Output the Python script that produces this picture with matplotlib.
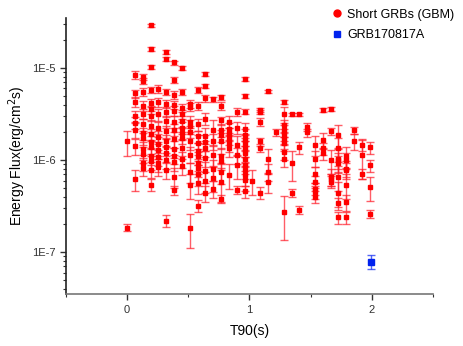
import numpy as np
import matplotlib
matplotlib.use('Agg')
import matplotlib.pyplot as plt
from matplotlib.lines import Line2D
from matplotlib.ticker import FixedLocator, MultipleLocator, LogLocator, NullFormatter

plt.rcParams['font.family'] = ['Liberation Sans', 'DejaVu Sans']

# T90 columns (s), GBM binning
t90_cols = [0.000, 0.064, 0.128, 0.192, 0.256, 0.320, 0.384, 0.448,
            0.512, 0.576, 0.640, 0.704, 0.768, 0.832, 0.896, 0.960,
            1.024, 1.088, 1.152, 1.216, 1.280, 1.344, 1.408, 1.472,
            1.536, 1.600, 1.664, 1.728, 1.792, 1.856, 1.920, 1.984]

# energy flux per column (erg/cm^2/s)
flux_cols = [
    [1.6e-6, 1.85e-7],
    [8.4e-6, 5.3e-6, 4.3e-6, 3.0e-6, 2.55e-6, 2.15e-6, 1.42e-6, 6.2e-7],
    [8.0e-6, 7.3e-6, 5.5e-6, 3.9e-6, 3.2e-6, 2.45e-6, 1.95e-6, 1.72e-6, 1.32e-6, 1.16e-6, 9.4e-7, 8.3e-7],
    [2.93e-5, 1.6e-5, 1.03e-5, 5.8e-6, 4.15e-6, 3.55e-6, 3.05e-6, 2.35e-6, 1.9e-6, 1.58e-6, 1.38e-6, 1.1e-6, 9.8e-7, 7.9e-7, 5.4e-7],
    [5.9e-6, 4.25e-6, 3.15e-6, 2.25e-6, 1.78e-6, 1.5e-6, 1.3e-6, 1.08e-6, 9.2e-7, 8.5e-7],
    [1.5e-5, 1.25e-5, 5.5e-6, 4.05e-6, 3.35e-6, 2.65e-6, 2.05e-6, 1.62e-6, 1.4e-6, 1.18e-6, 1.0e-6, 7.8e-7, 2.2e-7],
    [1.15e-5, 7.4e-6, 5.1e-6, 4.0e-6, 3.45e-6, 2.6e-6, 2.15e-6, 1.68e-6, 1.33e-6, 1.12e-6, 9.5e-7, 6.6e-7, 4.7e-7],
    [1.0e-5, 5.5e-6, 3.7e-6, 3.15e-6, 2.65e-6, 2.25e-6, 1.98e-6, 1.74e-6, 1.37e-6, 1.02e-6, 8.6e-7],
    [4.1e-6, 3.75e-6, 2.6e-6, 2.35e-6, 2.02e-6, 1.62e-6, 1.15e-6, 7.5e-7, 5.4e-7, 1.85e-7],
    [5.8e-6, 3.9e-6, 2.45e-6, 1.82e-6, 1.55e-6, 1.27e-6, 1.1e-6, 9.4e-7, 8.2e-7, 7.0e-7, 5.7e-7, 3.2e-7],
    [8.6e-6, 6.4e-6, 4.7e-6, 2.8e-6, 1.85e-6, 1.58e-6, 1.36e-6, 1.05e-6, 7.6e-7, 5.9e-7, 4.4e-7],
    [4.6e-6, 2.1e-6, 1.6e-6, 1.14e-6, 8.0e-7, 6.4e-7, 4.9e-7],
    [4.8e-6, 3.9e-6, 2.7e-6, 2.12e-6, 1.86e-6, 1.63e-6, 1.12e-6, 9.7e-7, 7.4e-7, 5.8e-7, 3.8e-7],
    [2.6e-6, 2.2e-6, 1.96e-6, 1.72e-6, 1.52e-6, 1.34e-6, 6.9e-7],
    [3.35e-6, 2.25e-6, 1.46e-6, 1.13e-6, 8.8e-7, 4.7e-7],
    [7.6e-6, 5.0e-6, 3.35e-6, 2.2e-6, 1.88e-6, 1.66e-6, 1.52e-6, 1.35e-6, 1.19e-6, 1.04e-6, 8.9e-7, 7.8e-7, 6.9e-7, 6.1e-7, 4.6e-7],
    [6.0e-7],
    [3.5e-6, 3.3e-6, 2.6e-6, 1.6e-6, 1.37e-6, 4.4e-7],
    [5.6e-6, 1.02e-6, 7.5e-7, 5.8e-7],
    [2.0e-6],
    [4.3e-6, 3.15e-6, 2.4e-6, 2.1e-6, 1.88e-6, 1.7e-6, 1.54e-6, 1.24e-6, 1.04e-6, 2.7e-7],
    [3.15e-6, 9.2e-7, 4.4e-7],
    [3.15e-6, 1.38e-6, 2.9e-7],
    [2.3e-6, 2.0e-6],
    [1.46e-6, 1.04e-6, 7.1e-7, 5.8e-7, 4.9e-7, 4.5e-7, 4.0e-7],
    [3.5e-6, 1.65e-6, 1.35e-6, 1.18e-6],
    [3.6e-6, 2.05e-6, 1.0e-6, 6.6e-7, 6.2e-7, 5.8e-7],
    [1.87e-6, 1.35e-6, 1.04e-6, 1.0e-6, 9.2e-7, 6.6e-7, 4.4e-7, 3.4e-7, 2.4e-7],
    [1.1e-6, 1.0e-6, 8.1e-7, 7.8e-7, 5.4e-7, 3.5e-7, 2.4e-7],
    [2.1e-6, 1.6e-6],
    [1.46e-6, 1.13e-6, 7.1e-7],
    [1.38e-6, 8.8e-7, 5.1e-7, 2.6e-7],
]

# relative flux errors, same layout as flux_cols
relerr_cols = [
    [0.3, 0.08],
    [0.1, 0.1, 0.12, 0.15, 0.15, 0.2, 0.2, 0.25],
    [0.08, 0.08, 0.1, 0.12, 0.12, 0.15, 0.15, 0.15, 0.2, 0.2, 0.2, 0.2],
    [0.04, 0.05, 0.05, 0.08, 0.1, 0.1, 0.12, 0.15, 0.15, 0.15, 0.2, 0.2, 0.2, 0.2, 0.15],
    [0.1, 0.12, 0.15, 0.15, 0.15, 0.2, 0.2, 0.2, 0.2, 0.2],
    [0.05, 0.05, 0.08, 0.1, 0.12, 0.15, 0.15, 0.15, 0.2, 0.2, 0.2, 0.2, 0.15],
    [0.05, 0.08, 0.1, 0.1, 0.12, 0.15, 0.15, 0.2, 0.2, 0.2, 0.2, 0.25, 0.12],
    [0.05, 0.08, 0.1, 0.12, 0.15, 0.15, 0.15, 0.15, 0.2, 0.2, 0.2],
    [0.1, 0.1, 0.15, 0.15, 0.15, 0.2, 0.2, 0.25, 0.3, 0.4],
    [0.08, 0.1, 0.15, 0.15, 0.2, 0.2, 0.2, 0.2, 0.2, 0.25, 0.25, 0.15],
    [0.05, 0.06, 0.08, 0.15, 0.2, 0.2, 0.2, 0.2, 0.25, 0.25, 0.2],
    [0.06, 0.3, 0.2, 0.25, 0.25, 0.3, 0.2],
    [0.06, 0.1, 0.1, 0.15, 0.15, 0.2, 0.2, 0.2, 0.25, 0.4, 0.1],
    [0.15, 0.15, 0.15, 0.15, 0.2, 0.2, 0.3],
    [0.1, 0.15, 0.25, 0.2, 0.3, 0.1],
    [0.05, 0.05, 0.06, 0.15, 0.15, 0.15, 0.15, 0.2, 0.2, 0.2, 0.2, 0.2, 0.25, 0.25, 0.15],
    [0.3],
    [0.05, 0.05, 0.1, 0.1, 0.1, 0.15],
    [0.04, 0.3, 0.2, 0.25],
    [0.08],
    [0.05, 0.2, 0.15, 0.15, 0.15, 0.15, 0.15, 0.2, 0.2, 0.5],
    [0.04, 0.35, 0.1],
    [0.04, 0.15, 0.1],
    [0.1, 0.1],
    [0.25, 0.2, 0.2, 0.15, 0.15, 0.15, 0.15],
    [0.05, 0.2, 0.15, 0.15],
    [0.05, 0.08, 0.3, 0.2, 0.15, 0.15],
    [0.3, 0.3, 0.3, 0.2, 0.2, 0.3, 0.3, 0.15, 0.15],
    [0.25, 0.2, 0.2, 0.2, 0.3, 0.2, 0.15],
    [0.08, 0.2],
    [0.15, 0.45, 0.12],
    [0.15, 0.15, 0.3, 0.1],
]

# GRB170817A
t90_170817 = [1.99]
flux_170817 = [7.9e-8]
err_170817 = [1.3e-8]

t90 = []
flux = []
ferr = []
for t, fl, re in zip(t90_cols, flux_cols, relerr_cols):
    for f, r in zip(fl, re):
        t90.append(t)
        flux.append(f)
        ferr.append(f * r)

fig = plt.figure(figsize=(4.63, 3.46), dpi=100)
ax = fig.add_axes([0.1425, 0.150, 0.7925, 0.798])

ax.errorbar(t90, flux, yerr=ferr, fmt='s', ms=2.3, color='#ff0000',
            ecolor=(1, 0.1, 0.15, 0.7), elinewidth=1, capsize=3, capthick=1)
ax.errorbar(t90_170817, flux_170817, yerr=err_170817, fmt='s', ms=4.5,
            color='#0022ee', ecolor=(0.1, 0.2, 0.95, 0.75), elinewidth=1,
            capsize=3, capthick=1)

ax.set_yscale('log')
ax.set_xlim(-0.5, 2.5)
ax.set_ylim(3.5e-8, 3.5e-5)

ax.xaxis.set_major_locator(FixedLocator([0, 1, 2]))
ax.xaxis.set_minor_locator(MultipleLocator(0.5))
ax.set_yticks([1e-7, 1e-6, 1e-5])
ax.set_yticklabels(['1E-7', '1E-6', '1E-5'])
ax.yaxis.set_minor_locator(LogLocator(base=10, subs=np.arange(2, 10)))
ax.yaxis.set_minor_formatter(NullFormatter())

for s in ['top', 'right']:
    ax.spines[s].set_visible(False)
ax.spines['left'].set_color('#222222')
ax.spines['bottom'].set_color('#777777')
ax.spines['left'].set_linewidth(1.2)
ax.spines['bottom'].set_linewidth(1.2)
ax.tick_params(which='major', direction='out', length=4, width=1, labelsize=8, colors='#333333')
ax.tick_params(which='minor', direction='out', length=2.5, width=0.8, colors='#333333')

ax.set_xlabel('T90(s)', fontsize=10, labelpad=7)
ax.set_ylabel('Energy Flux(erg/cm$^2$s)', fontsize=10, labelpad=3)

handles = [Line2D([], [], ls='none', marker='o', ms=5, color='#ff0000'),
           Line2D([], [], ls='none', marker='s', ms=5, color='#0022ee')]
fig.legend(handles, ['Short GRBs (GBM)', 'GRB170817A'], loc='upper right',
           bbox_to_anchor=(1.0, 1.0), frameon=False, fontsize=9,
           handletextpad=0.2, borderaxespad=0.3, labelspacing=0.7, handlelength=1.2)

fig.savefig('out.png', dpi=100)
